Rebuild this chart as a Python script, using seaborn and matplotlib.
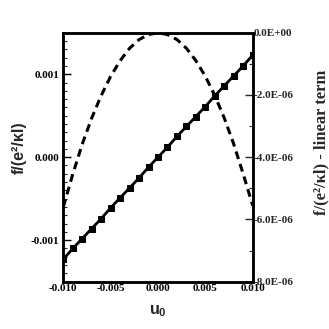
import numpy as np
import pandas as pd
import matplotlib
matplotlib.use("Agg")
import matplotlib.pyplot as plt
from matplotlib.ticker import MultipleLocator, FormatStrFormatter
import seaborn as sns

# Data
u0 = [-0.010, -0.009, -0.008, -0.007, -0.006, -0.005, -0.004, -0.003, -0.002, -0.001, 0.000,
      0.001, 0.002, 0.003, 0.004, 0.005, 0.006, 0.007, 0.008, 0.009, 0.010]
f_total = [-0.00123, -0.00110, -0.00098, -0.00086, -0.00074, -0.00061, -0.00049, -0.00037, -0.00025, -0.00012, 0.0,
           0.00012, 0.00025, 0.00037, 0.00049, 0.00061, 0.00074, 0.00086, 0.00098, 0.00110, 0.00123]
f_nonlin = [-5.60e-6, -4.54e-6, -3.58e-6, -2.74e-6, -2.02e-6, -1.40e-6, -0.90e-6, -0.50e-6, -0.22e-6, -0.06e-6, 0.0,
            -0.06e-6, -0.22e-6, -0.50e-6, -0.90e-6, -1.40e-6, -2.02e-6, -2.74e-6, -3.58e-6, -4.54e-6, -5.55e-6]

x_ticks = [-0.010, -0.005, 0.000, 0.005, 0.010]
left_ticks = [-0.001, 0.000, 0.001]
right_ticks = [0.0, -2e-6, -4e-6, -6e-6, -8e-6]

sns.set_style("white")
plt.rcParams['mathtext.fontset'] = 'custom'
plt.rcParams['mathtext.rm'] = 'Liberation Sans:bold'
plt.rcParams['mathtext.bf'] = 'Liberation Sans:bold'
plt.rcParams['mathtext.it'] = 'Liberation Sans:bold'

df = pd.DataFrame({"u0": u0, "f": f_total, "g": f_nonlin})

fig = plt.figure(figsize=(3.29, 3.29), dpi=100)
ax = fig.add_axes([0.1925, 0.1438, 0.5755, 0.7568])
ax2 = ax.twinx()

sns.lineplot(data=df, x="u0", y="f", ax=ax, color="black", linewidth=2.0,
             marker="s", markersize=5, markeredgecolor="black", zorder=3)
sns.lineplot(data=df, x="u0", y="g", ax=ax2, color="black", linewidth=2.2,
             dashes=False, zorder=2)
ax2.lines[0].set_dashes([2.6, 1.7])

ax.set_xlim(-0.010, 0.010)
ax.set_ylim(-0.0015, 0.0015)
ax2.set_ylim(-8e-6, 0.0)

serif = dict(family="Liberation Serif", weight="bold", size=8)

ax.set_xticks(x_ticks)
ax.xaxis.set_minor_locator(MultipleLocator(0.001))
ax.xaxis.set_major_formatter(FormatStrFormatter('%.3f'))
ax.set_yticks(left_ticks)
ax.yaxis.set_minor_locator(MultipleLocator(0.0001))
ax.yaxis.set_major_formatter(FormatStrFormatter('%.3f'))
ax2.set_yticks(right_ticks)
ax2.yaxis.set_minor_locator(MultipleLocator(1e-6))
ax2.yaxis.set_major_formatter(FormatStrFormatter('%.1E'))

for a in (ax, ax2):
    for lab in a.get_xticklabels() + a.get_yticklabels():
        lab.set_fontproperties(matplotlib.font_manager.FontProperties(**serif))
    for s in a.spines.values():
        s.set_linewidth(1.8)
        s.set_color("black")

ax.tick_params(axis='both', which='major', direction='in', length=6, width=1.0,
               top=False, right=False, pad=3, colors='black')
ax.tick_params(axis='both', which='minor', direction='in', length=3, width=0.8,
               top=False, right=False)
ax2.tick_params(axis='y', which='major', direction='in', length=6, width=1.0,
                left=False, right=True, pad=1)
ax2.tick_params(axis='y', which='minor', direction='in', length=3, width=0.8,
                left=False, right=True)
ax.tick_params(axis='x', pad=2)

ax.set_xlabel(r"u$_{0}$", fontfamily="Liberation Sans", fontweight="bold", fontsize=11.5)
ax.xaxis.set_label_coords(0.5, -0.085)
ax.set_ylabel("f/(e²/κl)", fontfamily="Liberation Sans", fontweight="bold", fontsize=11.5)
ax.yaxis.set_label_coords(-0.195, 0.54)
ax2.set_ylabel("f/(e²/κl) - linear term", fontfamily="Liberation Serif", fontweight="bold",
               fontsize=12)
ax2.yaxis.set_label_coords(1.32, 0.56)

fig.savefig("out.png", dpi=100)
